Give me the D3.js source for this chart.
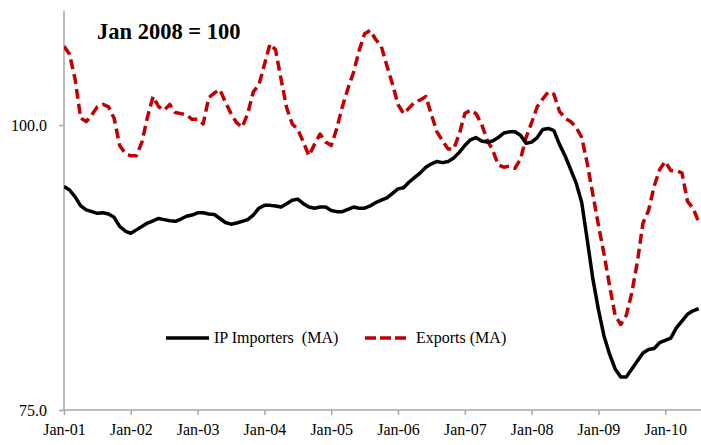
<!DOCTYPE html>
<html><head><meta charset="utf-8">
<script src="https://cdn.jsdelivr.net/npm/d3@7"></script>
<style>html,body{margin:0;padding:0;background:#fff;}svg{display:block;font-family:"Liberation Serif","DejaVu Serif",serif;}</style>
</head><body>
<svg id="c" width="701" height="445"></svg>
<script>
const tickLabels = ["Jan-01","Jan-02","Jan-03","Jan-04","Jan-05","Jan-06","Jan-07","Jan-08","Jan-09","Jan-10"];
const yTicks = [75, 100];
const seriesNames = ["IP Importers  (MA)", "Exports (MA)"];
// monthly values Jan-2001 .. Jul-2010
const ipImporters = [94.6,94.3,93.7,92.9,92.55,92.4,92.25,92.3,92.2,91.9,91.1,90.7,
 90.5,90.8,91.1,91.4,91.6,91.8,91.7,91.6,91.55,91.75,92.0,92.1,
 92.3,92.3,92.2,92.15,91.8,91.45,91.3,91.4,91.55,91.7,92.1,92.7,
 92.95,92.95,92.9,92.8,93.1,93.4,93.5,93.1,92.8,92.7,92.8,92.8,
 92.5,92.4,92.4,92.6,92.8,92.7,92.7,92.9,93.2,93.4,93.6,94.0,
 94.4,94.5,95.0,95.4,95.8,96.3,96.6,96.8,96.7,96.8,97.1,97.6,
 98.2,98.7,98.9,98.6,98.5,98.6,98.9,99.3,99.4,99.4,99.1,98.4,
 98.5,98.9,99.6,99.7,99.5,98.3,97.3,96.1,94.9,93.2,89.9,86.5,
 83.8,81.5,79.9,78.6,77.9,77.9,78.6,79.3,80.0,80.3,80.4,80.9,
 81.1,81.3,82.2,82.8,83.4,83.7,83.9];
const exportsMA = [106.9,106.2,104.0,100.6,100.3,100.9,101.6,101.8,101.6,100.6,98.2,97.5,
 97.3,97.3,98.5,100.7,102.5,101.6,101.3,101.8,101.1,101.0,100.9,100.5,
 100.5,100.1,102.4,102.8,103.1,102.0,101.0,100.2,99.8,101.0,102.9,103.5,
 105.3,107.1,106.6,104.0,101.5,100.1,99.6,98.5,97.3,98.3,99.2,98.5,
 98.2,99.7,101.6,103.2,104.6,106.5,108.0,108.3,107.5,106.9,105.2,103.6,
 101.8,101.0,101.5,102.0,102.2,102.5,100.9,99.4,98.6,97.9,97.9,99.2,
 101.0,101.3,101.0,100.1,98.7,97.8,96.5,96.3,96.4,96.2,97.0,98.9,
 100.2,101.6,102.3,102.9,102.7,101.2,100.6,100.3,99.8,98.9,96.6,93.9,
 91.2,88.7,85.9,83.3,82.5,83.3,85.3,88.0,91.4,92.5,94.6,96.1,
 96.8,96.0,96.0,95.8,93.3,92.7,91.5];

const svg = d3.select("#c");
const x = d3.scaleLinear().domain([0, 120]).range([64, 64 + 5.567 * 120]);
const y = d3.scaleLinear().domain([75, 110]).range([410, 11]);
const axisColor = "#a6a6a6";

// y axis
const yAxis = svg.append("g").attr("transform", "translate(64,0)")
  .call(d3.axisLeft(y).tickValues(yTicks).tickFormat(d3.format(".1f")).tickSize(5).tickPadding(12));
yAxis.select(".domain").attr("stroke", axisColor).attr("stroke-width", 1.5).attr("d", "M0," + y(110) + "V" + y(75));
yAxis.selectAll(".tick line").attr("stroke", axisColor).attr("stroke-width", 1.5);
yAxis.selectAll(".tick text").attr("font-size", 16).attr("fill", "#000").attr("font-family", "Liberation Serif");

// x axis
const xAxis = svg.append("g").attr("transform", "translate(0,410)")
  .call(d3.axisBottom(x).tickValues(tickLabels.map((d, i) => i * 12)).tickFormat((d, i) => tickLabels[i]).tickSize(5).tickPadding(9));
xAxis.select(".domain").attr("stroke", axisColor).attr("stroke-width", 1.5).attr("d", "M64,0H701");
xAxis.selectAll(".tick line").attr("stroke", axisColor).attr("stroke-width", 1.5);
xAxis.selectAll(".tick text").attr("font-size", 16).attr("fill", "#000").attr("font-family", "Liberation Serif");

svg.append("clipPath").attr("id", "clip").append("rect").attr("x", 64).attr("y", 0).attr("width", 640).attr("height", 410);

const line = d3.line().x((d, i) => x(i)).y(d => y(d)).curve(d3.curveLinear);
const g = svg.append("g").attr("clip-path", "url(#clip)");
g.append("path").datum(exportsMA).attr("d", line).attr("fill", "none")
  .attr("stroke", "#c00000").attr("stroke-width", 3.5).attr("stroke-linejoin", "round").attr("stroke-dasharray", "10,5");
g.append("path").datum(ipImporters).attr("d", line).attr("fill", "none")
  .attr("stroke", "#000").attr("stroke-width", 3.5).attr("stroke-linejoin", "round");

// title
svg.append("text").attr("x", 97).attr("y", 39).attr("font-size", 22.5).attr("font-weight", "bold")
  .attr("font-family", "Liberation Serif").text("Jan 2008 = 100");

// legend
const leg = svg.append("g");
leg.append("line").attr("x1", 166).attr("x2", 209).attr("y1", 338).attr("y2", 338)
  .attr("stroke", "#000").attr("stroke-width", 3.5);
leg.append("text").attr("x", 214).attr("y", 343).attr("font-size", 16).attr("xml:space", "preserve")
  .style("white-space", "pre").text(seriesNames[0]);
leg.append("line").attr("x1", 365).attr("x2", 406).attr("y1", 338).attr("y2", 338)
  .attr("stroke", "#c00000").attr("stroke-width", 3.5).attr("stroke-dasharray", "11,4");
leg.append("text").attr("x", 416).attr("y", 343).attr("font-size", 16).text(seriesNames[1]);
</script>
</body></html>
